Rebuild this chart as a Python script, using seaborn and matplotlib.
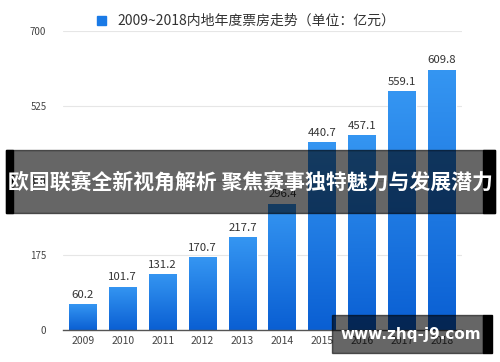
import numpy as np
import matplotlib
matplotlib.use('Agg')
import matplotlib.pyplot as plt
from matplotlib.patches import Rectangle
import seaborn as sns

# data
years = ['2009', '2010', '2011', '2012', '2013', '2014', '2015', '2016', '2017', '2018']
box_office = [60.2, 101.7, 131.2, 170.7, 217.7, 296.4, 440.7, 457.1, 559.1, 609.8]
y_ticks = [0, 175, 350, 525, 700]
legend_label = '2009~2018内地年度票房走势（单位：亿元）'
banner_text = '欧国联赛全新视角解析 聚焦赛事独特魅力与发展潜力'
watermark = 'www.zhq-j9.com'

sns.set_theme(style='white')
plt.rcParams['font.family'] = ['Noto Sans CJK SC', 'DejaVu Sans']

fig = plt.figure(figsize=(5, 3.62), dpi=100)
ax = fig.add_axes([0.126, 0.088, 0.798, 0.826])

sns.barplot(x=years, y=box_office, color='#1a7ae6', width=0.7, saturation=1, ax=ax)

# vertical gradient on each bar
grad = np.linspace(0, 1, 256).reshape(-1, 1)
cmap = matplotlib.colors.LinearSegmentedColormap.from_list('b', ['#0a5fd3', '#3596f2'])
for p in ax.patches:
    x0, y0 = p.get_x(), p.get_y()
    w, h = p.get_width(), p.get_height()
    im = ax.imshow(grad, cmap=cmap, origin='lower', aspect='auto',
                   extent=[x0, x0 + w, y0, y0 + h], zorder=p.get_zorder() + 0.1)
    im.set_clip_path(p)

for i, v in enumerate(box_office):
    ax.text(i, v + 10, f'{v:.1f}', ha='center', va='bottom', fontsize=8.2, color='#333333')

ax.set_xlim(-0.5, 9.5)
ax.set_ylim(0, 700)
ax.set_yticks(y_ticks)
ax.set_yticklabels([str(t) for t in y_ticks], fontsize=7, color='#444444')
ax.tick_params(axis='x', labelsize=7.5, colors='#444444', length=0, pad=4)
ax.tick_params(axis='y', length=0, pad=12)
for t in y_ticks[1:]:
    ax.axhline(t, color='#e6e6e6', lw=0.8, zorder=0)
for s in ['top', 'right', 'left']:
    ax.spines[s].set_visible(False)
ax.spines['bottom'].set_color('#555555')
ax.spines['bottom'].set_linewidth(1)
ax.set_xlabel('')
ax.set_ylabel('')

# legend at top
fig.patches.append(Rectangle((97 / 500, 1 - 25 / 362), 9 / 500, 9 / 362,
                             transform=fig.transFigure, color='#1a7ae6'))
fig.text(117 / 500, 1 - 21 / 362, legend_label, fontsize=10, color='#333333', va='center')

# banner overlay
fig.patches.append(Rectangle((6 / 500, 1 - 213 / 362), 489 / 500, 63 / 362,
                             transform=fig.transFigure, color='black', alpha=0.6, zorder=10))
fig.patches.append(Rectangle((6 / 500, 1 - 213 / 362), 7 / 500, 63 / 362,
                             transform=fig.transFigure, color='black', zorder=11))
fig.patches.append(Rectangle((483 / 500, 1 - 213 / 362), 12 / 500, 63 / 362,
                             transform=fig.transFigure, color='black', zorder=11))
fig.text(0.5, 1 - 182 / 362, banner_text, fontsize=15, fontweight='bold', color='white',
         ha='center', va='center', zorder=12)

# watermark box
fig.patches.append(Rectangle((332 / 500, 1 - 353 / 362), 151 / 500, 38 / 362,
                             transform=fig.transFigure, color='black', alpha=0.6, zorder=10))
fig.patches.append(Rectangle((483 / 500, 1 - 353 / 362), 9 / 500, 38 / 362,
                             transform=fig.transFigure, color='black', zorder=11))
fig.text(411 / 500, 1 - 334 / 362, watermark, fontsize=11, fontweight='bold', color='white',
         ha='center', va='center', family='DejaVu Sans', zorder=12)

fig.savefig('out.png', dpi=100)
